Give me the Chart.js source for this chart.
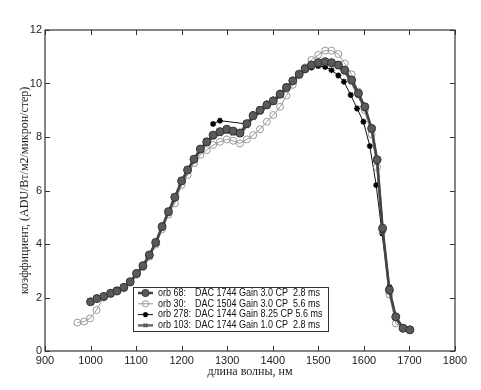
<!DOCTYPE html>
<html>
<head>
<meta charset="utf-8">
<script src="https://cdn.jsdelivr.net/npm/chart.js@4.4.1/dist/chart.umd.min.js"></script>
<style>
    html, body { margin: 0; padding: 0; background: #fff; }
    #wrap { width: 481px; height: 390px; }
</style>
</head>
<body>
<div id="wrap"><canvas id="lineCanvas" width="481" height="390"></canvas></div>
<script>
// данные
var xTicks = [900, 1000, 1100, 1200, 1300, 1400, 1500, 1600, 1700, 1800];
var yTicks = [0, 2, 4, 6, 8, 10, 12];

var wl68 = [1000, 1014, 1029, 1044, 1058, 1073, 1087, 1101, 1115, 1129, 1143, 1157, 1171, 1185, 1200, 1213, 1227, 1241, 1255, 1269, 1284, 1299, 1313, 1328, 1343, 1357, 1372, 1387, 1401, 1416, 1430, 1444, 1458, 1471, 1485, 1500, 1515, 1529, 1544, 1558, 1573, 1588, 1602, 1617, 1629, 1641, 1656, 1670, 1686, 1701];
var orb68 = [1.84, 1.96, 2.04, 2.16, 2.25, 2.38, 2.59, 2.90, 3.19, 3.59, 4.06, 4.65, 5.21, 5.75, 6.36, 6.77, 7.17, 7.55, 7.82, 8.07, 8.20, 8.29, 8.22, 8.15, 8.50, 8.80, 9.00, 9.20, 9.35, 9.60, 9.85, 10.10, 10.35, 10.55, 10.69, 10.78, 10.81, 10.78, 10.69, 10.50, 10.13, 9.63, 9.13, 8.32, 7.15, 4.59, 2.28, 1.28, 0.85, 0.79];

var wl30 = [971, 986, 999, 1013, 1029, 1044, 1058, 1073, 1087, 1101, 1115, 1129, 1143, 1157, 1171, 1185, 1200, 1213, 1227, 1241, 1255, 1269, 1284, 1299, 1313, 1328, 1343, 1357, 1372, 1387, 1401, 1416, 1430, 1444, 1458, 1471, 1485, 1500, 1515, 1529, 1544, 1558, 1573, 1588, 1602, 1617, 1629, 1641, 1656, 1670, 1686, 1701];
var orb30 = [1.06, 1.10, 1.22, 1.53, 2.00, 2.12, 2.22, 2.34, 2.55, 2.85, 3.13, 3.52, 3.98, 4.55, 5.10, 5.52, 6.21, 6.58, 7.02, 7.33, 7.51, 7.70, 7.82, 7.91, 7.86, 7.76, 7.91, 8.07, 8.29, 8.57, 8.82, 9.13, 9.55, 9.95, 10.30, 10.60, 10.88, 11.07, 11.23, 11.23, 11.10, 10.75, 10.34, 9.69, 9.00, 8.10, 6.87, 4.50, 2.11, 1.03, 0.85, 0.80];

var wl278 = [1269, 1284, 1343, 1357, 1372, 1387, 1401, 1416, 1430, 1444, 1458, 1471, 1485, 1500, 1515, 1529, 1544, 1556, 1571, 1585, 1599, 1613, 1627, 1640, 1656, 1668, 1686, 1701];
var orb278 = [8.49, 8.61, 8.49, 8.85, 9.05, 9.25, 9.40, 9.65, 9.90, 10.10, 10.35, 10.50, 10.60, 10.65, 10.62, 10.50, 10.30, 10.07, 9.57, 9.07, 8.57, 7.66, 6.20, 4.40, 2.40, 1.25, 0.88, 0.80];

var wl103 = [1000, 1014, 1029, 1044, 1058, 1073, 1087, 1101, 1115, 1129, 1143, 1157, 1171, 1185, 1200, 1213, 1227, 1241, 1255, 1269, 1284, 1299, 1313, 1328, 1343, 1357, 1372, 1387, 1401, 1416, 1430, 1444, 1458, 1471, 1485, 1500, 1515, 1529, 1544, 1558, 1573, 1588, 1602, 1617, 1629, 1641, 1656, 1670, 1686, 1701];
var orb103 = [1.82, 1.93, 2.02, 2.13, 2.22, 2.35, 2.56, 2.86, 3.15, 3.55, 4.02, 4.60, 5.16, 5.70, 6.30, 6.72, 7.12, 7.50, 7.76, 8.00, 8.12, 8.20, 8.14, 8.08, 8.42, 8.72, 8.93, 9.14, 9.30, 9.55, 9.80, 10.05, 10.30, 10.50, 10.64, 10.72, 10.75, 10.72, 10.62, 10.43, 10.05, 9.55, 9.05, 8.25, 7.05, 4.50, 2.20, 1.22, 0.82, 0.77];

var labels = [
    'orb 68:|DAC 1744 Gain 3.0 CP  2.8 ms',
    'orb 30:|DAC 1504 Gain 3.0 CP  5.6 ms',
    'orb 278:|DAC 1744 Gain 8.25 CP 5.6 ms',
    'orb 103:|DAC 1744 Gain 1.0 CP  2.8 ms'
];

function pts(xs, ys) {
    return xs.map(function (x, i) { return { x: x, y: ys[i] }; });
}

var lineChartData = {
    datasets: [
        {
            label: labels[0],
            data: pts(wl68, orb68),
            borderColor: '#444',
            backgroundColor: '#5a5a5a',
            borderWidth: 2.5,
            pointStyle: 'circle',
            pointRadius: 4,
            pointBorderColor: '#333',
            pointBorderWidth: 1
        },
        {
            label: labels[1],
            data: pts(wl30, orb30),
            borderColor: '#999',
            backgroundColor: 'rgba(255,255,255,0)',
            borderWidth: 1,
            pointStyle: 'circle',
            pointRadius: 3.5,
            pointBorderColor: '#999',
            pointBorderWidth: 1
        },
        {
            label: labels[2],
            data: pts(wl278, orb278),
            borderColor: '#111',
            backgroundColor: '#111',
            borderWidth: 1,
            pointStyle: 'star',
            pointRadius: 3,
            pointBorderColor: '#000',
            pointBorderWidth: 1.5
        },
        {
            label: labels[3],
            data: pts(wl103, orb103),
            borderColor: '#6a6a6a',
            backgroundColor: '#6a6a6a',
            borderWidth: 2.5,
            pointStyle: 'crossRot',
            pointRadius: 3,
            pointBorderColor: '#555',
            pointBorderWidth: 1.5
        }
    ]
};

// рамка с засечками внутрь (как в matlab) + легенда внутри графика
var framePlugin = {
    id: 'frame',
    afterDraw: function (chart) {
        var ctx = chart.ctx;
        var a = chart.chartArea;
        var xs = chart.scales.x, ys = chart.scales.y;
        ctx.save();
        ctx.strokeStyle = '#333';
        ctx.lineWidth = 1.2;
        ctx.strokeRect(a.left, a.top, a.right - a.left, a.bottom - a.top);
        ctx.lineWidth = 1;
        xTicks.forEach(function (t) {
            var px = Math.round(xs.getPixelForValue(t)) + 0.5;
            ctx.beginPath();
            ctx.moveTo(px, a.bottom); ctx.lineTo(px, a.bottom - 5);
            ctx.moveTo(px, a.top); ctx.lineTo(px, a.top + 5);
            ctx.stroke();
        });
        yTicks.forEach(function (t) {
            var py = Math.round(ys.getPixelForValue(t)) + 0.5;
            ctx.beginPath();
            ctx.moveTo(a.left, py); ctx.lineTo(a.left + 5, py);
            ctx.moveTo(a.right, py); ctx.lineTo(a.right - 5, py);
            ctx.stroke();
        });

        // легенда
        var lx = 133, ly = 287, lw = 195, lh = 44;
        ctx.fillStyle = '#fff';
        ctx.fillRect(lx, ly, lw, lh);
        ctx.strokeStyle = '#333';
        ctx.lineWidth = 1;
        ctx.strokeRect(lx + 0.5, ly + 0.5, lw, lh);
        ctx.textBaseline = 'middle';
        chart.data.datasets.forEach(function (ds, i) {
            var cy = ly + 6 + i * 10.8;
            ctx.strokeStyle = ds.borderColor;
            ctx.lineWidth = ds.borderWidth;
            ctx.beginPath();
            ctx.moveTo(lx + 5, cy); ctx.lineTo(lx + 20, cy);
            ctx.stroke();
            ctx.strokeStyle = ds.pointBorderColor;
            ctx.fillStyle = ds.backgroundColor;
            ctx.lineWidth = ds.pointBorderWidth;
            Chart.helpers.drawPoint(ctx, {
                pointStyle: ds.pointStyle,
                radius: ds.pointRadius * 0.9,
                borderWidth: ds.pointBorderWidth
            }, lx + 12.5, cy);
            var parts = ds.label.split('|');
            ctx.fillStyle = '#111';
            ctx.font = '10px "Liberation Sans", Arial, sans-serif';
            ctx.save();
            ctx.translate(lx + 25, cy);
            ctx.scale(0.9, 1);
            ctx.fillText(parts[0], 0, 0);
            ctx.fillText(parts[1], 41, 0);
            ctx.restore();
        });
        ctx.restore();
    }
};

window.onload = function () {
    var ctx = document.getElementById('lineCanvas').getContext('2d');
    window.myLine = new Chart(ctx, {
        type: 'line',
        data: lineChartData,
        plugins: [framePlugin],
        options: {
            responsive: false,
            animation: false,
            layout: { padding: { top: 30, right: 26, left: 0, bottom: 0 } },
            plugins: {
                legend: { display: false },
                tooltip: { enabled: false }
            },
            scales: {
                x: {
                    type: 'linear',
                    min: 900, max: 1800,
                    afterBuildTicks: function (s) { s.ticks = xTicks.map(function (v) { return { value: v }; }); },
                    afterFit: function (s) { s.height = 39; },
                    grid: { display: false, drawTicks: false },
                    border: { display: false },
                    ticks: {
                        color: '#222', padding: 3, maxRotation: 0,
                        font: { family: '"Liberation Sans", Arial, sans-serif', size: 11 },
                        callback: function (v) { return String(v); }
                    },
                    title: {
                        display: true,
                        text: 'длина волны, нм',
                        color: '#222',
                        padding: { top: 0, bottom: 11 },
                        font: { family: '"Liberation Serif", "DejaVu Serif", serif', size: 12 }
                    }
                },
                y: {
                    min: 0, max: 12,
                    afterBuildTicks: function (s) { s.ticks = yTicks.map(function (v) { return { value: v }; }); },
                    afterFit: function (s) { s.width = 45; },
                    grid: { display: false, drawTicks: false },
                    border: { display: false },
                    ticks: {
                        color: '#222', padding: 3,
                        font: { family: '"Liberation Sans", Arial, sans-serif', size: 11 },
                        callback: function (v) { return String(v); }
                    },
                    title: {
                        display: true,
                        text: 'коэффициент, (ADU/Вт/м2/микрон/стер)',
                        color: '#222',
                        padding: { top: 18, bottom: 0 },
                        font: { family: '"Liberation Serif", "DejaVu Serif", serif', size: 12 }
                    }
                }
            }
        }
    });
};
</script>
</body>
</html>
